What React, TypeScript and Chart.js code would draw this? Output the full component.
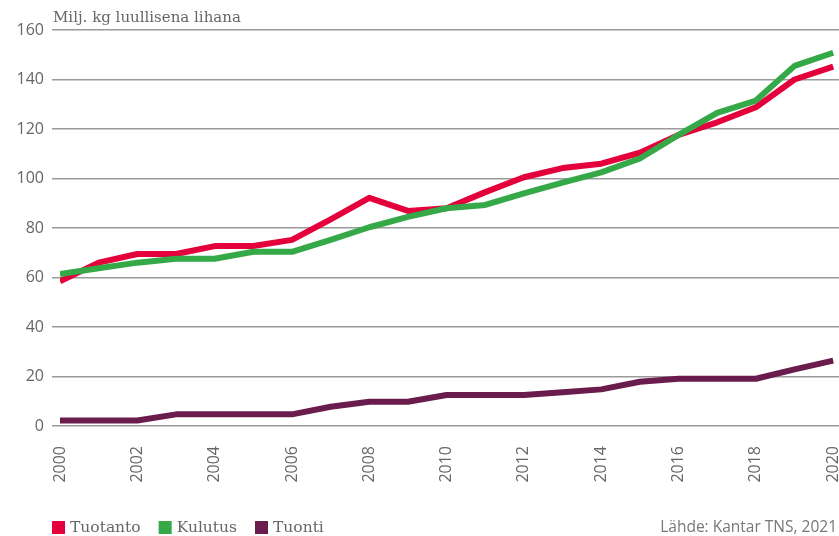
import React, { useEffect, useRef } from "react";
import { Chart, registerables } from "chart.js";

Chart.register(...registerables);

const years = [2000, 2001, 2002, 2003, 2004, 2005, 2006, 2007, 2008, 2009, 2010, 2011, 2012, 2013, 2014, 2015, 2016, 2017, 2018, 2019, 2020];
const tuotanto = [58.5, 66, 69.5, 69.5, 72.7, 72.7, 75.2, 83.5, 92.2, 86.9, 88, 94.5, 100.5, 104.2, 106, 110.4, 117.6, 122.7, 128.8, 140, 145.2];
const kulutus = [61.4, 63.7, 66, 67.6, 67.6, 70.4, 70.4, 75.2, 80.3, 84.5, 88, 89.3, 94, 98.3, 102.5, 108.1, 117.6, 126.5, 131.5, 145.5, 150.8];
const tuonti = [2.2, 2.2, 2.2, 4.7, 4.7, 4.7, 4.7, 7.8, 9.8, 9.8, 12.5, 12.5, 12.5, 13.6, 14.8, 17.9, 19.1, 19.1, 19.1, 22.9, 26.4];
const seriesNames = ["Tuotanto", "Kulutus", "Tuonti"];
const seriesColors = ["#e4003b", "#35a847", "#6a1c4c"];
const yTicks = [0, 20, 40, 60, 80, 100, 120, 140, 160];
const unitTitle = "Milj. kg luullisena lihana";
const sourceText = "Lähde: Kantar TNS, 2021";

const overlayPlugin = {
  id: "overlay",
  afterDraw(chart: any) {
    const ctx = chart.ctx;
    const area = chart.chartArea;
    ctx.save();
    // unit title
    ctx.font = "15px 'DejaVu Serif'";
    ctx.fillStyle = "#666";
    ctx.textAlign = "left";
    ctx.textBaseline = "alphabetic";
    ctx.fillText(unitTitle, area.left - 7, 22);
    // legend
    const ly = 528;
    let x = area.left - 8;
    chart.data.datasets.forEach((ds: any) => {
      ctx.fillStyle = ds.borderColor;
      ctx.fillRect(x, ly - 7, 13, 13);
      x += 18;
      ctx.font = "15.5px 'DejaVu Serif'";
      ctx.fillStyle = "#666";
      ctx.textBaseline = "middle";
      ctx.fillText(ds.label, x, ly);
      x += ctx.measureText(ds.label).width + 18;
    });
    // source
    ctx.font = "15.5px 'Open Sans'";
    ctx.fillStyle = "#777";
    ctx.textAlign = "right";
    ctx.textBaseline = "middle";
    ctx.fillText(sourceText, chart.width - 2, ly);
    ctx.restore();
  },
};

export default function App() {
  const ref = useRef<HTMLCanvasElement | null>(null);
  useEffect(() => {
    if (!ref.current) return;
    const sets = [tuotanto, kulutus, tuonti];
    const orders = [2, 1, 3];
    const chart = new Chart(ref.current, {
      type: "line",
      data: {
        datasets: sets.map((vals, i) => ({
          label: seriesNames[i],
          data: years.map((y, j) => ({ x: y, y: vals[j] })),
          borderColor: seriesColors[i],
          backgroundColor: seriesColors[i],
          borderWidth: 6,
          pointRadius: 0,
          tension: 0,
          order: orders[i],
          borderCapStyle: "butt",
          borderJoinStyle: "round",
        })),
      },
      options: {
        animation: false,
        responsive: false,
        maintainAspectRatio: false,
        layout: { padding: { top: 30, right: 0, bottom: 0, left: 0 } },
        plugins: {
          legend: { display: false },
          tooltip: { enabled: false },
          title: { display: false },
        },
        scales: {
          x: {
            type: "linear",
            min: 2000,
            max: 2020.15,
            grid: { display: false },
            border: { display: false },
            afterFit: (s: any) => { s.height = 110; s.paddingLeft = 0; s.paddingRight = 0; },
            ticks: {
              stepSize: 2,
              includeBounds: false,
              autoSkip: false,
              maxRotation: 90,
              minRotation: 90,
              padding: 12,
              color: "#666",
              font: { family: "'Open Sans'", size: 16 },
              callback: (v: any) => String(v),
            },
          },
          y: {
            min: 0,
            max: 160,
            afterFit: (s: any) => { s.width = 60; },
            afterBuildTicks: (s: any) => { s.ticks = yTicks.map((v) => ({ value: v })); },
            grid: { color: "#9a9a9a", lineWidth: 1.5, tickLength: 8, drawTicks: true },
            border: { display: false },
            ticks: {
              padding: 8,
              color: "#666",
              font: { family: "'Open Sans'", size: 16 },
            },
          },
        },
      },
      plugins: [overlayPlugin],
    } as any);
    return () => chart.destroy();
  }, []);
  return (
    <div style={{ position: "absolute", left: 0, top: 0, width: 839, height: 536, background: "#fff" }}>
      <canvas ref={ref} width={839} height={536} style={{ width: 839, height: 536 }} />
    </div>
  );
}
